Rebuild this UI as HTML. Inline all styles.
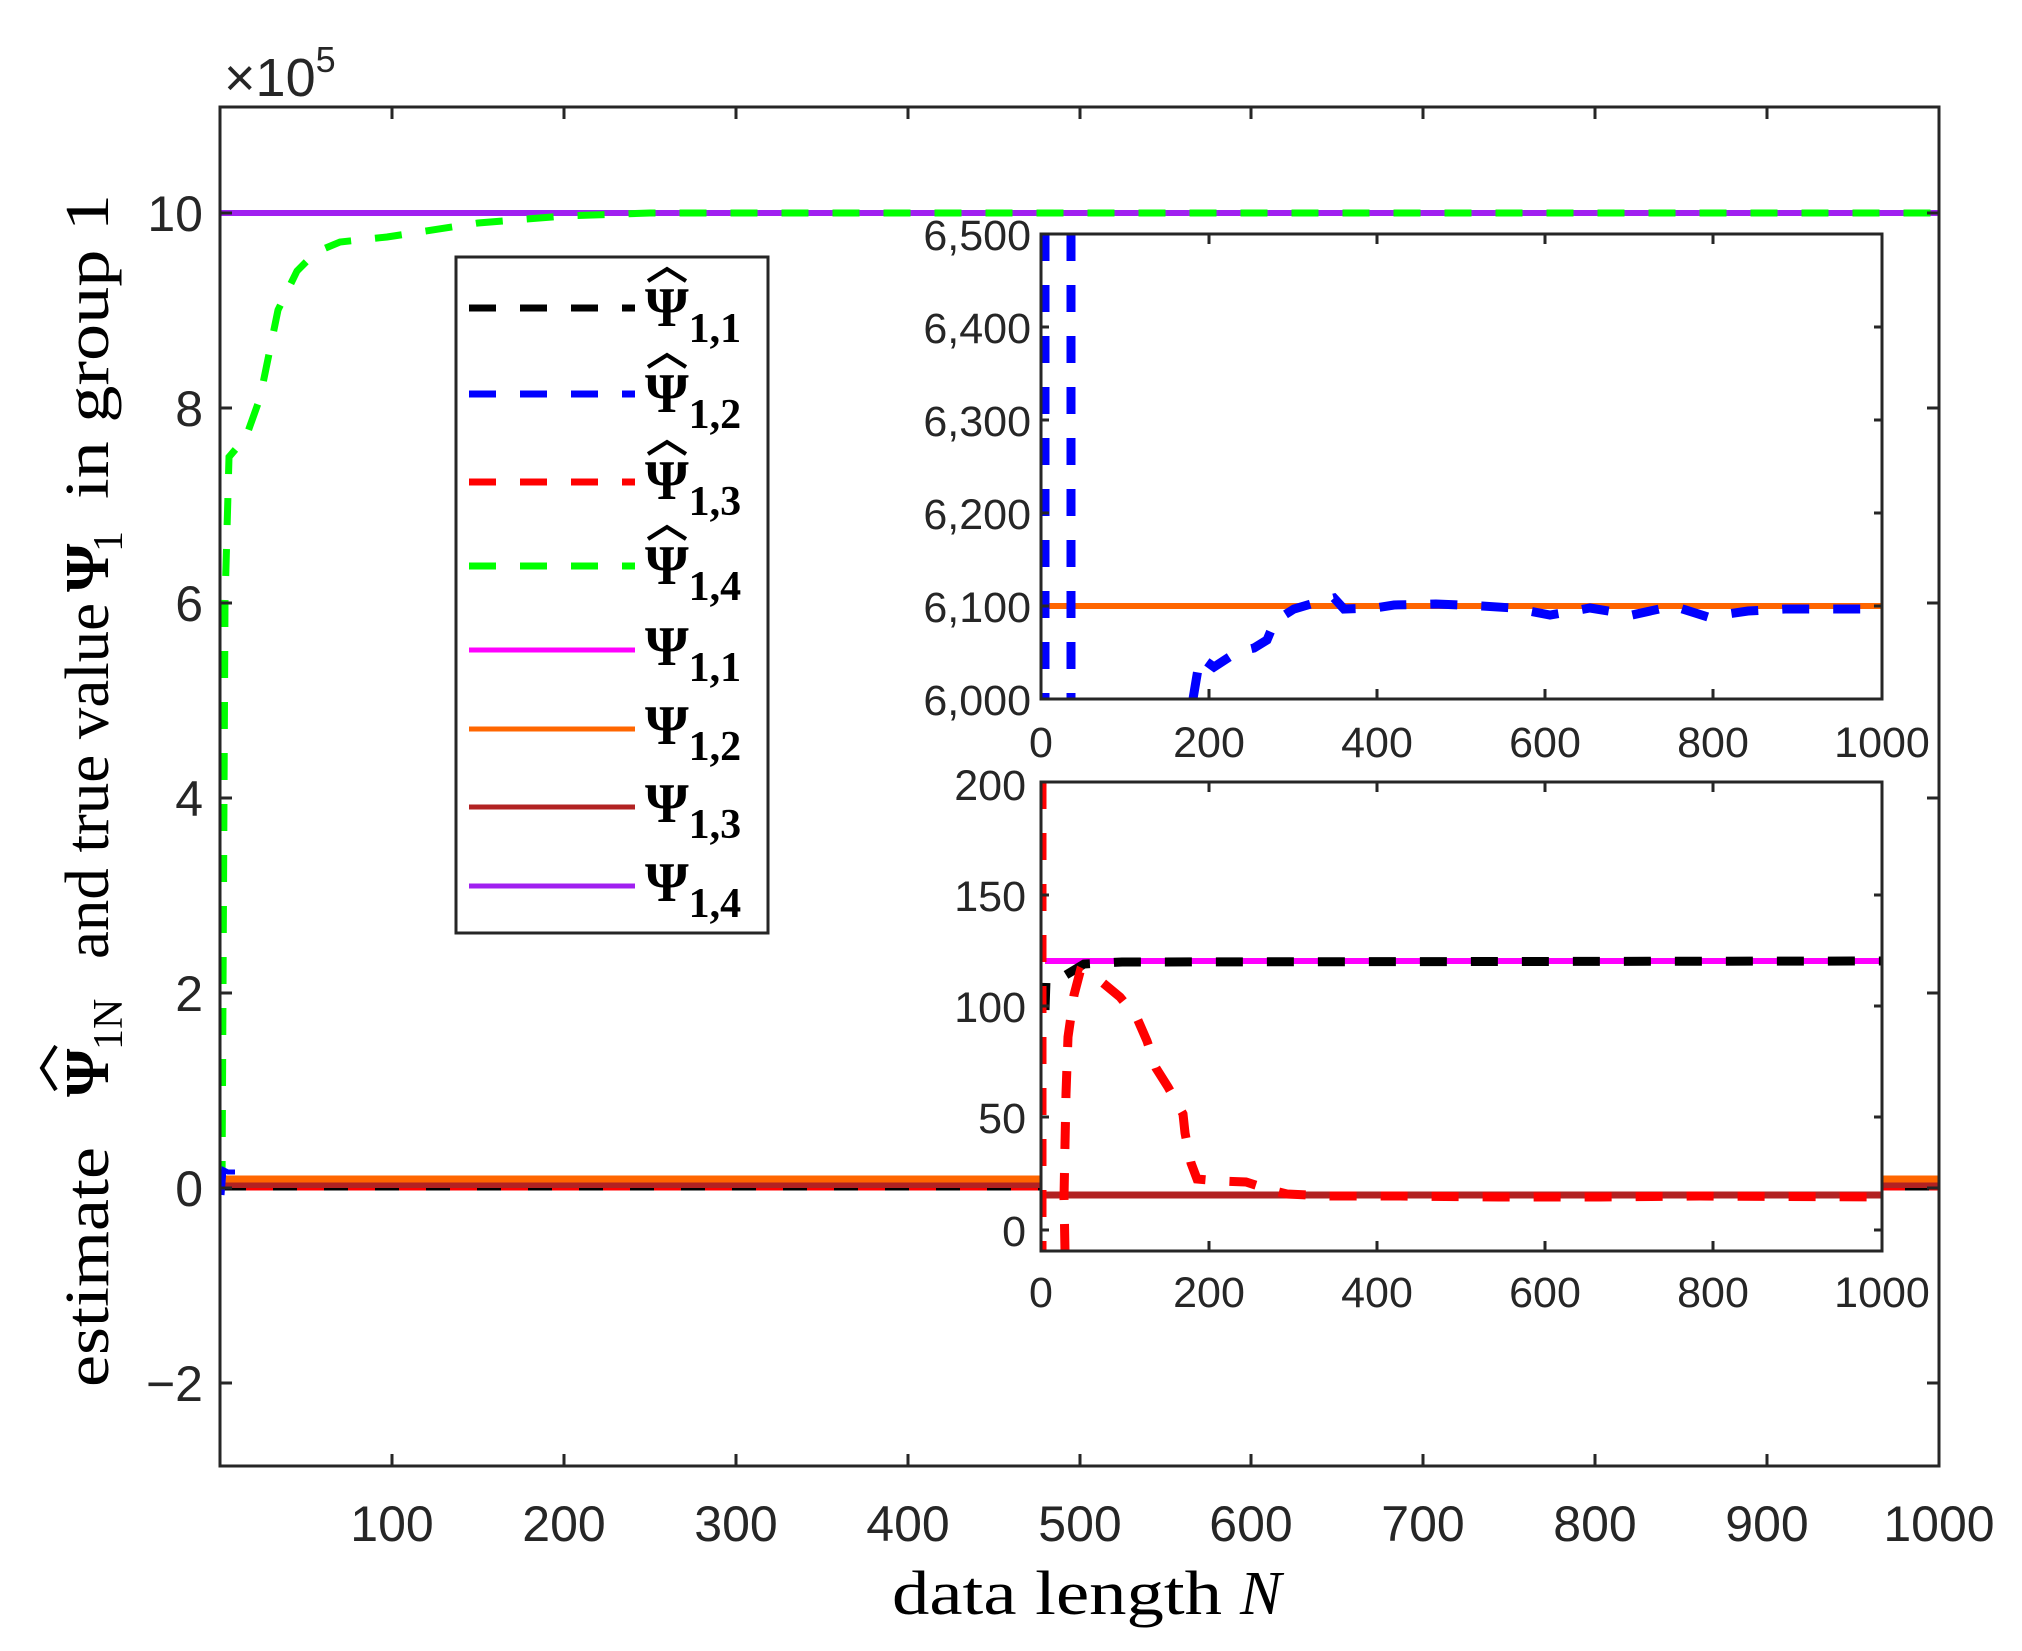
<!DOCTYPE html>
<html><head><meta charset="utf-8"><style>
html,body{margin:0;padding:0;background:#fff;}
svg{display:block;}
.t{font-family:"Liberation Sans",sans-serif;fill:#262626;}
.s{font-family:"Liberation Serif",serif;fill:#000;}
</style></head><body>
<svg width="2022" height="1651" viewBox="0 0 2022 1651" xmlns="http://www.w3.org/2000/svg">
<rect width="2022" height="1651" fill="#fff"/>
<g fill="none" stroke-width="6">
<line x1="220" y1="213" x2="1939" y2="213" stroke="#a020f0"/>
<polyline stroke="#00ff00" stroke-width="7" stroke-dasharray="27 24" points="222,1188 225,603 229,457 246,437 260,398 278,310 297,271 316,252 340,242 387,237 478,223 564,216 650,213 1939,213"/>
<line x1="220" y1="1181" x2="1939" y2="1181" stroke="#0000ff" stroke-width="7" stroke-dasharray="27 24"/>
<line x1="220" y1="1187" x2="1939" y2="1187" stroke="#000" stroke-width="7" stroke-dasharray="27 24"/>
<line x1="220" y1="1187" x2="1939" y2="1187" stroke="#ff0000" stroke-width="7" stroke-dasharray="27 24" stroke-dashoffset="25"/>
<line x1="220" y1="1185" x2="1939" y2="1185" stroke="#b22222" stroke-width="6"/>
<line x1="220" y1="1179" x2="1939" y2="1179" stroke="#ff6600" stroke-width="7"/>
<polyline stroke="#0000ff" stroke-width="5" points="222,1195 224,1170 228,1172 235,1172"/>
</g>
<g stroke="#262626" stroke-width="3" fill="none">
<rect x="220" y="107" width="1719" height="1359"/>
<path d="M392,107v12M564,107v12M736,107v12M908,107v12M1080,107v12M1251,107v12M1423,107v12M1595,107v12M1767,107v12
M392,1466v-12M564,1466v-12M736,1466v-12M908,1466v-12M1080,1466v-12M1251,1466v-12M1423,1466v-12M1595,1466v-12M1767,1466v-12M1939,1466v-12
M220,213h12M220,408h12M220,603h12M220,798h12M220,993h12M220,1188h12M220,1383h12
M1939,213h-12M1939,408h-12M1939,603h-12M1939,798h-12M1939,993h-12M1939,1188h-12M1939,1383h-12"/>
</g>
<g class="t" font-size="50" text-anchor="end">
<text x="203" y="231">10</text><text x="203" y="426">8</text><text x="203" y="621">6</text>
<text x="203" y="816">4</text><text x="203" y="1011">2</text><text x="203" y="1206">0</text>
<text x="203" y="1401">−2</text>
</g>
<g class="t" font-size="50" text-anchor="middle">
<text x="392" y="1541">100</text><text x="564" y="1541">200</text><text x="736" y="1541">300</text>
<text x="908" y="1541">400</text><text x="1080" y="1541">500</text><text x="1251" y="1541">600</text>
<text x="1423" y="1541">700</text><text x="1595" y="1541">800</text><text x="1767" y="1541">900</text>
<text x="1939" y="1541">1000</text>
</g>
<text class="t" x="224" y="96" font-size="54">×10<tspan font-size="36" dy="-24">5</tspan></text>
<text class="s" x="892" y="1614" font-size="62" textLength="330" lengthAdjust="spacingAndGlyphs">data length</text>
<text class="s" x="1240" y="1614" font-size="62" font-style="italic">N</text>
<g transform="translate(108,0) rotate(-90)" class="s">
<text x="-1387" y="0" font-size="62" textLength="240" lengthAdjust="spacingAndGlyphs">estimate</text>
<text x="-1097" y="0" font-size="62" font-weight="bold">Ψ</text>
<path d="M-1090,-52 L-1068,-66 L-1046,-52" fill="none" stroke="#000" stroke-width="4"/>
<text x="-1050" y="14" font-size="42">1N</text>
<text x="-959" y="0" font-size="62" textLength="356" lengthAdjust="spacingAndGlyphs">and true value</text>
<text x="-592" y="0" font-size="62" font-weight="bold">Ψ</text>
<text x="-552" y="14" font-size="42">1</text>
<text x="-499" y="0" font-size="62" textLength="305" lengthAdjust="spacingAndGlyphs">in group 1</text>
</g>
<rect x="456" y="257" width="312" height="676" fill="#fff" stroke="#262626" stroke-width="3"/>
<g fill="none" stroke-width="7">
<line x1="469" y1="308" x2="635" y2="308" stroke="#000" stroke-dasharray="27 24"/>
<line x1="469" y1="394" x2="635" y2="394" stroke="#0000ff" stroke-dasharray="27 24"/>
<line x1="469" y1="482" x2="635" y2="482" stroke="#ff0000" stroke-dasharray="27 24"/>
<line x1="469" y1="566" x2="635" y2="566" stroke="#00ff00" stroke-dasharray="27 24"/>
<line x1="469" y1="650" x2="635" y2="650" stroke="#ff00ff" stroke-width="5"/>
<line x1="469" y1="729" x2="635" y2="729" stroke="#ff6600" stroke-width="5"/>
<line x1="469" y1="807" x2="635" y2="807" stroke="#b22222" stroke-width="5"/>
<line x1="469" y1="886" x2="635" y2="886" stroke="#a020f0" stroke-width="5"/>
</g>
<g fill="none" stroke="#000" stroke-width="4">
<path d="M648,281 L667,269 L686,281"/>
<path d="M648,367 L667,355 L686,367"/>
<path d="M648,454 L667,442 L686,454"/>
<path d="M648,539 L667,527 L686,539"/>
</g>
<g class="s" font-size="56" font-weight="bold">
<text x="645" y="326">Ψ<tspan font-size="42" dy="16">1,1</tspan></text>
<text x="645" y="412">Ψ<tspan font-size="42" dy="16">1,2</tspan></text>
<text x="645" y="499">Ψ<tspan font-size="42" dy="16">1,3</tspan></text>
<text x="645" y="584">Ψ<tspan font-size="42" dy="16">1,4</tspan></text>
<text x="645" y="665">Ψ<tspan font-size="42" dy="16">1,1</tspan></text>
<text x="645" y="744">Ψ<tspan font-size="42" dy="16">1,2</tspan></text>
<text x="645" y="822">Ψ<tspan font-size="42" dy="16">1,3</tspan></text>
<text x="645" y="901">Ψ<tspan font-size="42" dy="16">1,4</tspan></text>
</g>
<rect x="1041" y="234" width="841" height="465" fill="#fff"/>
<svg x="1041" y="234" width="841" height="465" viewBox="1041 234 841 465" overflow="hidden">
<line x1="1041" y1="606" x2="1882" y2="606" stroke="#ff6600" stroke-width="6"/>
<g fill="none" stroke="#0000ff" stroke-width="9" stroke-dasharray="27 24">
<line x1="1045" y1="234" x2="1045" y2="699"/>
<line x1="1071" y1="234" x2="1071" y2="699"/>
<polyline points="1193,699 1200,657 1214,667 1237,652 1254,648 1267,640 1275,621 1294,609 1311,604 1334,598 1344,609 1375,608 1394,605 1436,604 1482,606 1513,608 1550,615 1590,608 1632,615 1673,606 1708,617 1748,611 1785,609 1823,609 1862,609 1882,608"/>
</g>
</svg>
<g stroke="#262626" stroke-width="3" fill="none">
<rect x="1041" y="234" width="841" height="465"/>
<path d="M1209,234v10M1377,234v10M1545,234v10M1713,234v10M1209,699v-10M1377,699v-10M1545,699v-10M1713,699v-10
M1041,327h8M1041,420h8M1041,513h8M1041,606h8M1882,327h-8M1882,420h-8M1882,513h-8M1882,606h-8"/>
</g>
<g class="t" font-size="43" text-anchor="end">
<text x="1031" y="250">6,500</text><text x="1031" y="343">6,400</text><text x="1031" y="436">6,300</text>
<text x="1031" y="529">6,200</text><text x="1031" y="622">6,100</text><text x="1031" y="715">6,000</text>
</g>
<g class="t" font-size="43" text-anchor="middle">
<text x="1041" y="757">0</text><text x="1209" y="757">200</text><text x="1377" y="757">400</text>
<text x="1545" y="757">600</text><text x="1713" y="757">800</text><text x="1882" y="757">1000</text>
</g>
<rect x="1041" y="782" width="841" height="469" fill="#fff"/>
<svg x="1041" y="782" width="841" height="469" viewBox="1041 782 841 469" overflow="hidden">
<line x1="1045" y1="961" x2="1882" y2="961" stroke="#ff00ff" stroke-width="6"/>
<line x1="1041" y1="1195" x2="1882" y2="1195" stroke="#b22222" stroke-width="7"/>
<g fill="none" stroke-width="9" stroke-dasharray="27 24">
<polyline stroke="#000" points="1045,1010 1046,980 1061,978 1084,964 1122,962 1882,961"/>
<line stroke="#ff0000" x1="1042" y1="782" x2="1042" y2="1251"/>
<polyline stroke="#ff0000" points="1065,1251 1064,1198 1065,1144 1066,1094 1068,1037 1074,995 1080,972 1103,983 1120,997 1137,1018 1147,1041 1156,1068 1168,1087 1183,1114 1185,1133 1191,1163 1197,1179 1221,1181 1246,1182 1271,1190 1287,1194 1330,1196 1400,1196 1500,1197 1600,1197 1700,1196 1882,1197"/>
</g>
</svg>
<g stroke="#262626" stroke-width="3" fill="none">
<rect x="1041" y="782" width="841" height="469"/>
<path d="M1209,782v10M1377,782v10M1545,782v10M1713,782v10M1209,1251v-10M1377,1251v-10M1545,1251v-10M1713,1251v-10
M1041,895h8M1041,1006h8M1041,1117h8M1041,1230h8M1882,895h-8M1882,1006h-8M1882,1117h-8M1882,1230h-8"/>
</g>
<g class="t" font-size="43" text-anchor="end">
<text x="1026" y="800">200</text><text x="1026" y="911">150</text><text x="1026" y="1022">100</text>
<text x="1026" y="1133">50</text><text x="1026" y="1246">0</text>
</g>
<g class="t" font-size="43" text-anchor="middle">
<text x="1041" y="1307">0</text><text x="1209" y="1307">200</text><text x="1377" y="1307">400</text>
<text x="1545" y="1307">600</text><text x="1713" y="1307">800</text><text x="1882" y="1307">1000</text>
</g>
</svg>
</body></html>
